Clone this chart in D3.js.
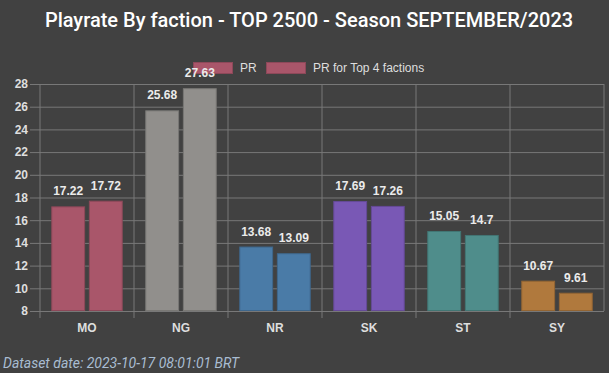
<!DOCTYPE html>
<html>
<head>
<meta charset="utf-8">
<script src="https://cdn.jsdelivr.net/npm/d3@7"></script>
<style>
  html, body { margin: 0; padding: 0; background: #414141; }
  svg { display: block; }
</style>
</head>
<body>
<div id="chart"></div>
<script>
'use strict';

// data
var factions = ['MO', 'NG', 'NR', 'SK', 'ST', 'SY'];
var seriesNames = ['PR', 'PR for Top 4 factions'];
var prValues = [17.22, 25.68, 13.68, 17.69, 15.05, 10.67];
var prTop4Values = [17.72, 27.63, 13.09, 17.26, 14.7, 9.61];
var factionColors = ['#a9566a', '#918f8c', '#4a7ba7', '#7958b5', '#4f8d8b', '#b0793d'];
var yTicks = [8, 10, 12, 14, 16, 18, 20, 22, 24, 26, 28];
var titleText = 'Playrate By faction - TOP 2500 - Season SEPTEMBER/2023';
var footerText = 'Dataset date: 2023-10-17 08:01:01 BRT';

var width = 609, height = 373;
var plot = {left: 40, right: 604, top: 84, bottom: 311};
var gridColor = '#787878';
var textColor = '#dedede';

var svg = d3.select('#chart')
    .append('svg')
    .attr('width', width)
    .attr('height', height);

svg.append('rect')
    .attr('width', width)
    .attr('height', height)
    .attr('fill', '#414141');

// title
svg.append('text')
    .attr('x', 309)
    .attr('y', 27)
    .attr('text-anchor', 'middle')
    .style('font-family', 'Roboto')
    .style('font-weight', 500)
    .style('font-size', '20px')
    .attr('fill', '#ffffff')
    .text(titleText);

var x0 = d3.scaleBand()
    .domain(factions)
    .range([plot.left, plot.right]);

// chart.js style: 80% of the category, 90% of each bar slot
var groupInset = x0.bandwidth() * 0.1;
var x1 = d3.scaleBand()
    .domain(seriesNames)
    .range([groupInset, x0.bandwidth() - groupInset])
    .paddingInner(0.1)
    .paddingOuter(0.05);

var y = d3.scaleLinear()
    .domain([8, 28])
    .range([plot.bottom, plot.top]);

// horizontal grid + y axis
var gy = svg.append('g')
    .attr('class', 'y-axis')
    .attr('transform', 'translate(' + plot.right + ',0)')
    .call(d3.axisLeft(y).tickValues(yTicks).tickSize(plot.right - plot.left + 10).tickPadding(2));

gy.select('.domain').remove();
gy.selectAll('line').attr('stroke', gridColor);
gy.selectAll('text')
    .attr('fill', textColor)
    .style('font-family', 'Liberation Sans')
    .style('font-weight', 'bold')
    .style('font-size', '12px');

// vertical grid lines at category edges
var edges = factions.map(function (f) { return x0(f); }).concat([plot.right]);
svg.append('g')
    .attr('class', 'x-grid')
    .selectAll('line')
    .data(edges)
    .enter()
    .append('line')
    .attr('x1', function (d) { return d; })
    .attr('x2', function (d) { return d; })
    .attr('y1', plot.top)
    .attr('y2', function (d, i) { return i === edges.length - 1 ? plot.bottom : plot.bottom + 7; })
    .attr('stroke', gridColor)
    .attr('stroke-width', 1);

// x axis labels
var gx = svg.append('g')
    .attr('class', 'x-axis')
    .attr('transform', 'translate(0,' + plot.bottom + ')')
    .call(d3.axisBottom(x0).tickSize(0).tickPadding(12));

gx.select('.domain').remove();
gx.selectAll('text')
    .attr('fill', textColor)
    .style('font-family', 'Liberation Sans')
    .style('font-weight', 'bold')
    .style('font-size', '12px');

// bars
var rows = factions.map(function (f, i) {
    return {
        faction: f,
        color: factionColors[i],
        values: [
            {series: seriesNames[0], value: prValues[i], color: factionColors[i]},
            {series: seriesNames[1], value: prTop4Values[i], color: factionColors[i]}
        ]
    };
});

var groups = svg.append('g')
    .attr('class', 'bars')
    .selectAll('g.faction')
    .data(rows)
    .enter()
    .append('g')
    .attr('class', 'faction')
    .attr('transform', function (d) { return 'translate(' + x0(d.faction) + ',0)'; });

groups.selectAll('rect')
    .data(function (d) { return d.values; })
    .enter()
    .append('rect')
    .attr('x', function (d) { return x1(d.series) + 0.5; })
    .attr('y', function (d) { return y(d.value) + 0.5; })
    .attr('width', x1.bandwidth() - 1)
    .attr('height', function (d) { return y(8) - y(d.value) - 1; })
    .attr('fill', function (d) { return d.color; })
    .attr('stroke', function (d) { return d3.color(d.color).darker(0.5); })
    .attr('stroke-width', 1);

// legend (boxes use the first faction colour, as in the source)
var legendItems = [
    {name: seriesNames[0], x: 193},
    {name: seriesNames[1], x: 266}
];
var legend = svg.append('g').attr('class', 'legend');
legend.selectAll('rect')
    .data(legendItems)
    .enter()
    .append('rect')
    .attr('x', function (d) { return d.x + 0.5; })
    .attr('y', 62.5)
    .attr('width', 39)
    .attr('height', 11)
    .attr('fill', factionColors[0])
    .attr('stroke', d3.color(factionColors[0]).darker(0.5));

legend.selectAll('text')
    .data(legendItems)
    .enter()
    .append('text')
    .attr('x', function (d) { return d.x + 47; })
    .attr('y', 72)
    .attr('fill', textColor)
    .style('font-family', 'Liberation Sans')
    .style('font-size', '12px')
    .text(function (d) { return d.name; });

// value labels above bars, drawn last so they sit over the legend
var labels = svg.append('g')
    .attr('class', 'value-labels')
    .selectAll('g')
    .data(rows)
    .enter()
    .append('g')
    .attr('transform', function (d) { return 'translate(' + x0(d.faction) + ',0)'; });

labels.selectAll('text')
    .data(function (d) { return d.values; })
    .enter()
    .append('text')
    .attr('x', function (d) { return x1(d.series) + x1.bandwidth() / 2; })
    .attr('y', function (d) { return y(d.value) - 11; })
    .attr('text-anchor', 'middle')
    .attr('fill', '#ebebeb')
    .style('font-family', 'Liberation Sans')
    .style('font-weight', 'bold')
    .style('font-size', '12px')
    .text(function (d) { return d.value; });

// footer
svg.append('text')
    .attr('x', 3)
    .attr('y', 368)
    .attr('fill', '#a9bdd2')
    .style('font-family', 'Roboto')
    .style('font-style', 'italic')
    .style('font-size', '14px')
    .text(footerText);
</script>
</body>
</html>
